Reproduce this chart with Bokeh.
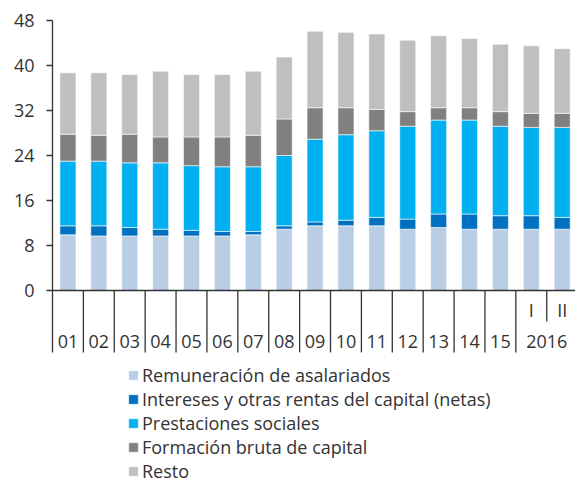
from bokeh.plotting import figure
from bokeh.models import Range1d, FixedTicker, Span, Legend, LegendItem, ColumnDataSource
from bokeh.core.properties import value
from bokeh.embed import file_html
from bokeh.resources import INLINE

# ---- data ----
years = ["01", "02", "03", "04", "05", "06", "07", "08", "09", "10",
         "11", "12", "13", "14", "15", "2016", "2016"]
subs = [""] * 15 + ["I", "II"]

series_names = ["Remuneración de asalariados",
                "Intereses y otras rentas del capital (netas)",
                "Prestaciones sociales",
                "Formación bruta de capital",
                "Resto"]

rem = [9.9, 9.7, 9.7, 9.7, 9.7, 9.7, 9.9, 10.9, 11.5, 11.5, 11.5, 10.9, 11.2, 10.9, 10.9, 10.9, 10.9]
inte = [1.6, 1.8, 1.5, 1.2, 1.0, 0.8, 0.6, 0.6, 0.7, 1.0, 1.5, 1.8, 2.4, 2.7, 2.4, 2.4, 2.1]
prest = [11.5, 11.5, 11.5, 11.8, 11.5, 11.5, 11.5, 12.5, 14.7, 15.2, 15.4, 16.5, 16.7, 16.7, 15.9, 15.7, 16.0]
fbc = [4.8, 4.6, 5.1, 4.6, 5.1, 5.3, 5.6, 6.5, 5.6, 4.8, 3.8, 2.6, 2.2, 2.2, 2.6, 2.5, 2.5]
resto = [10.9, 11.1, 10.6, 11.7, 11.1, 11.1, 11.4, 11.0, 13.6, 13.4, 13.4, 12.7, 12.8, 12.3, 12.0, 12.0, 11.5]

y_ticks = [0, 8, 16, 24, 32, 40, 48]

colors = ["#B9CDE5", "#0070C0", "#00B0F0", "#808080", "#BFBFBF"]

FONT = "Open Sans"
TXT = "#333333"

n = len(years)
xs = [i + 0.5 for i in range(n)]
keys = ["rem", "inte", "prest", "fbc", "resto"]
src = ColumnDataSource(dict(x=xs, rem=rem, inte=inte, prest=prest, fbc=fbc, resto=resto))

PX_PER_UNIT = 5.625
FRAME_H = 483 - 20
FRAME_W = 575 - 52

p = figure(width=575, height=483, output_backend="svg", toolbar_location=None,
           x_range=Range1d(0, FRAME_W / 30.89),
           y_range=Range1d(48 - FRAME_H / PX_PER_UNIT, 48),
           x_axis_location=None, min_border_left=52, min_border_right=0,
           min_border_top=20, min_border_bottom=0)
p.outline_line_color = None
p.xgrid.visible = False
p.ygrid.visible = False
p.background_fill_color = "white"
p.border_fill_color = "white"

rs = p.vbar_stack(keys, x="x", width=0.52, source=src, fill_color=colors,
                  line_color="white", line_width=0.6)

# y axis
ya = p.yaxis[0]
ya.ticker = FixedTicker(ticks=y_ticks)
ya.bounds = (-11.0, 48)
ya.axis_line_color = TXT
ya.axis_line_width = 1.3
ya.major_tick_line_color = TXT
ya.major_tick_line_width = 1.3
ya.major_tick_out = 6
ya.major_tick_in = 0
ya.minor_tick_line_color = None
ya.major_label_standoff = 12
ya.major_label_text_font = FONT
ya.major_label_text_font_size = "18px"
ya.major_label_text_color = TXT

# baseline
p.add_layout(Span(location=0, dimension="width", line_color=TXT, line_width=1.3))

# category separators
sx0, sy0, sy1 = [], [], []
for i in range(1, n):
    sx0.append(i)
    sy0.append(0)
    sy1.append(-11.0 if years[i] != years[i - 1] else -5.5)
p.segment(x0=sx0, y0=sy0, x1=sx0, y1=sy1, line_color=TXT, line_width=1.3)

# year labels (grouped)
lab_x, lab_t = [], []
i = 0
while i < n:
    j = i
    while j + 1 < n and years[j + 1] == years[i]:
        j += 1
    lab_x.append((i + j + 1) / 2)
    lab_t.append(years[i])
    i = j + 1
p.text(x=lab_x, y=[-9.07] * len(lab_x), text=lab_t, text_align="center",
       text_baseline="middle", text_font=value(FONT), text_font_size="18px",
       text_color=TXT)

sub_x = [xs[k] for k in range(n) if subs[k]]
sub_t = [subs[k] for k in range(n) if subs[k]]
p.text(x=sub_x, y=[-3.4] * len(sub_x), text=sub_t, text_align="center",
       text_baseline="middle", text_font=value(FONT), text_font_size="18px",
       text_color=TXT)

# legend
items = [LegendItem(label=nm, renderers=[r]) for nm, r in zip(series_names, rs)]
legend = Legend(items=items, location=(75, 0.5), orientation="vertical",
                label_text_font=FONT, label_text_font_size="18px",
                label_text_color=TXT, glyph_width=12, glyph_height=12,
                label_height=23, spacing=0, padding=0, margin=0,
                label_standoff=3, border_line_color=None,
                background_fill_alpha=0)
p.add_layout(legend)

open("out.html", "w").write(file_html(p, INLINE))
